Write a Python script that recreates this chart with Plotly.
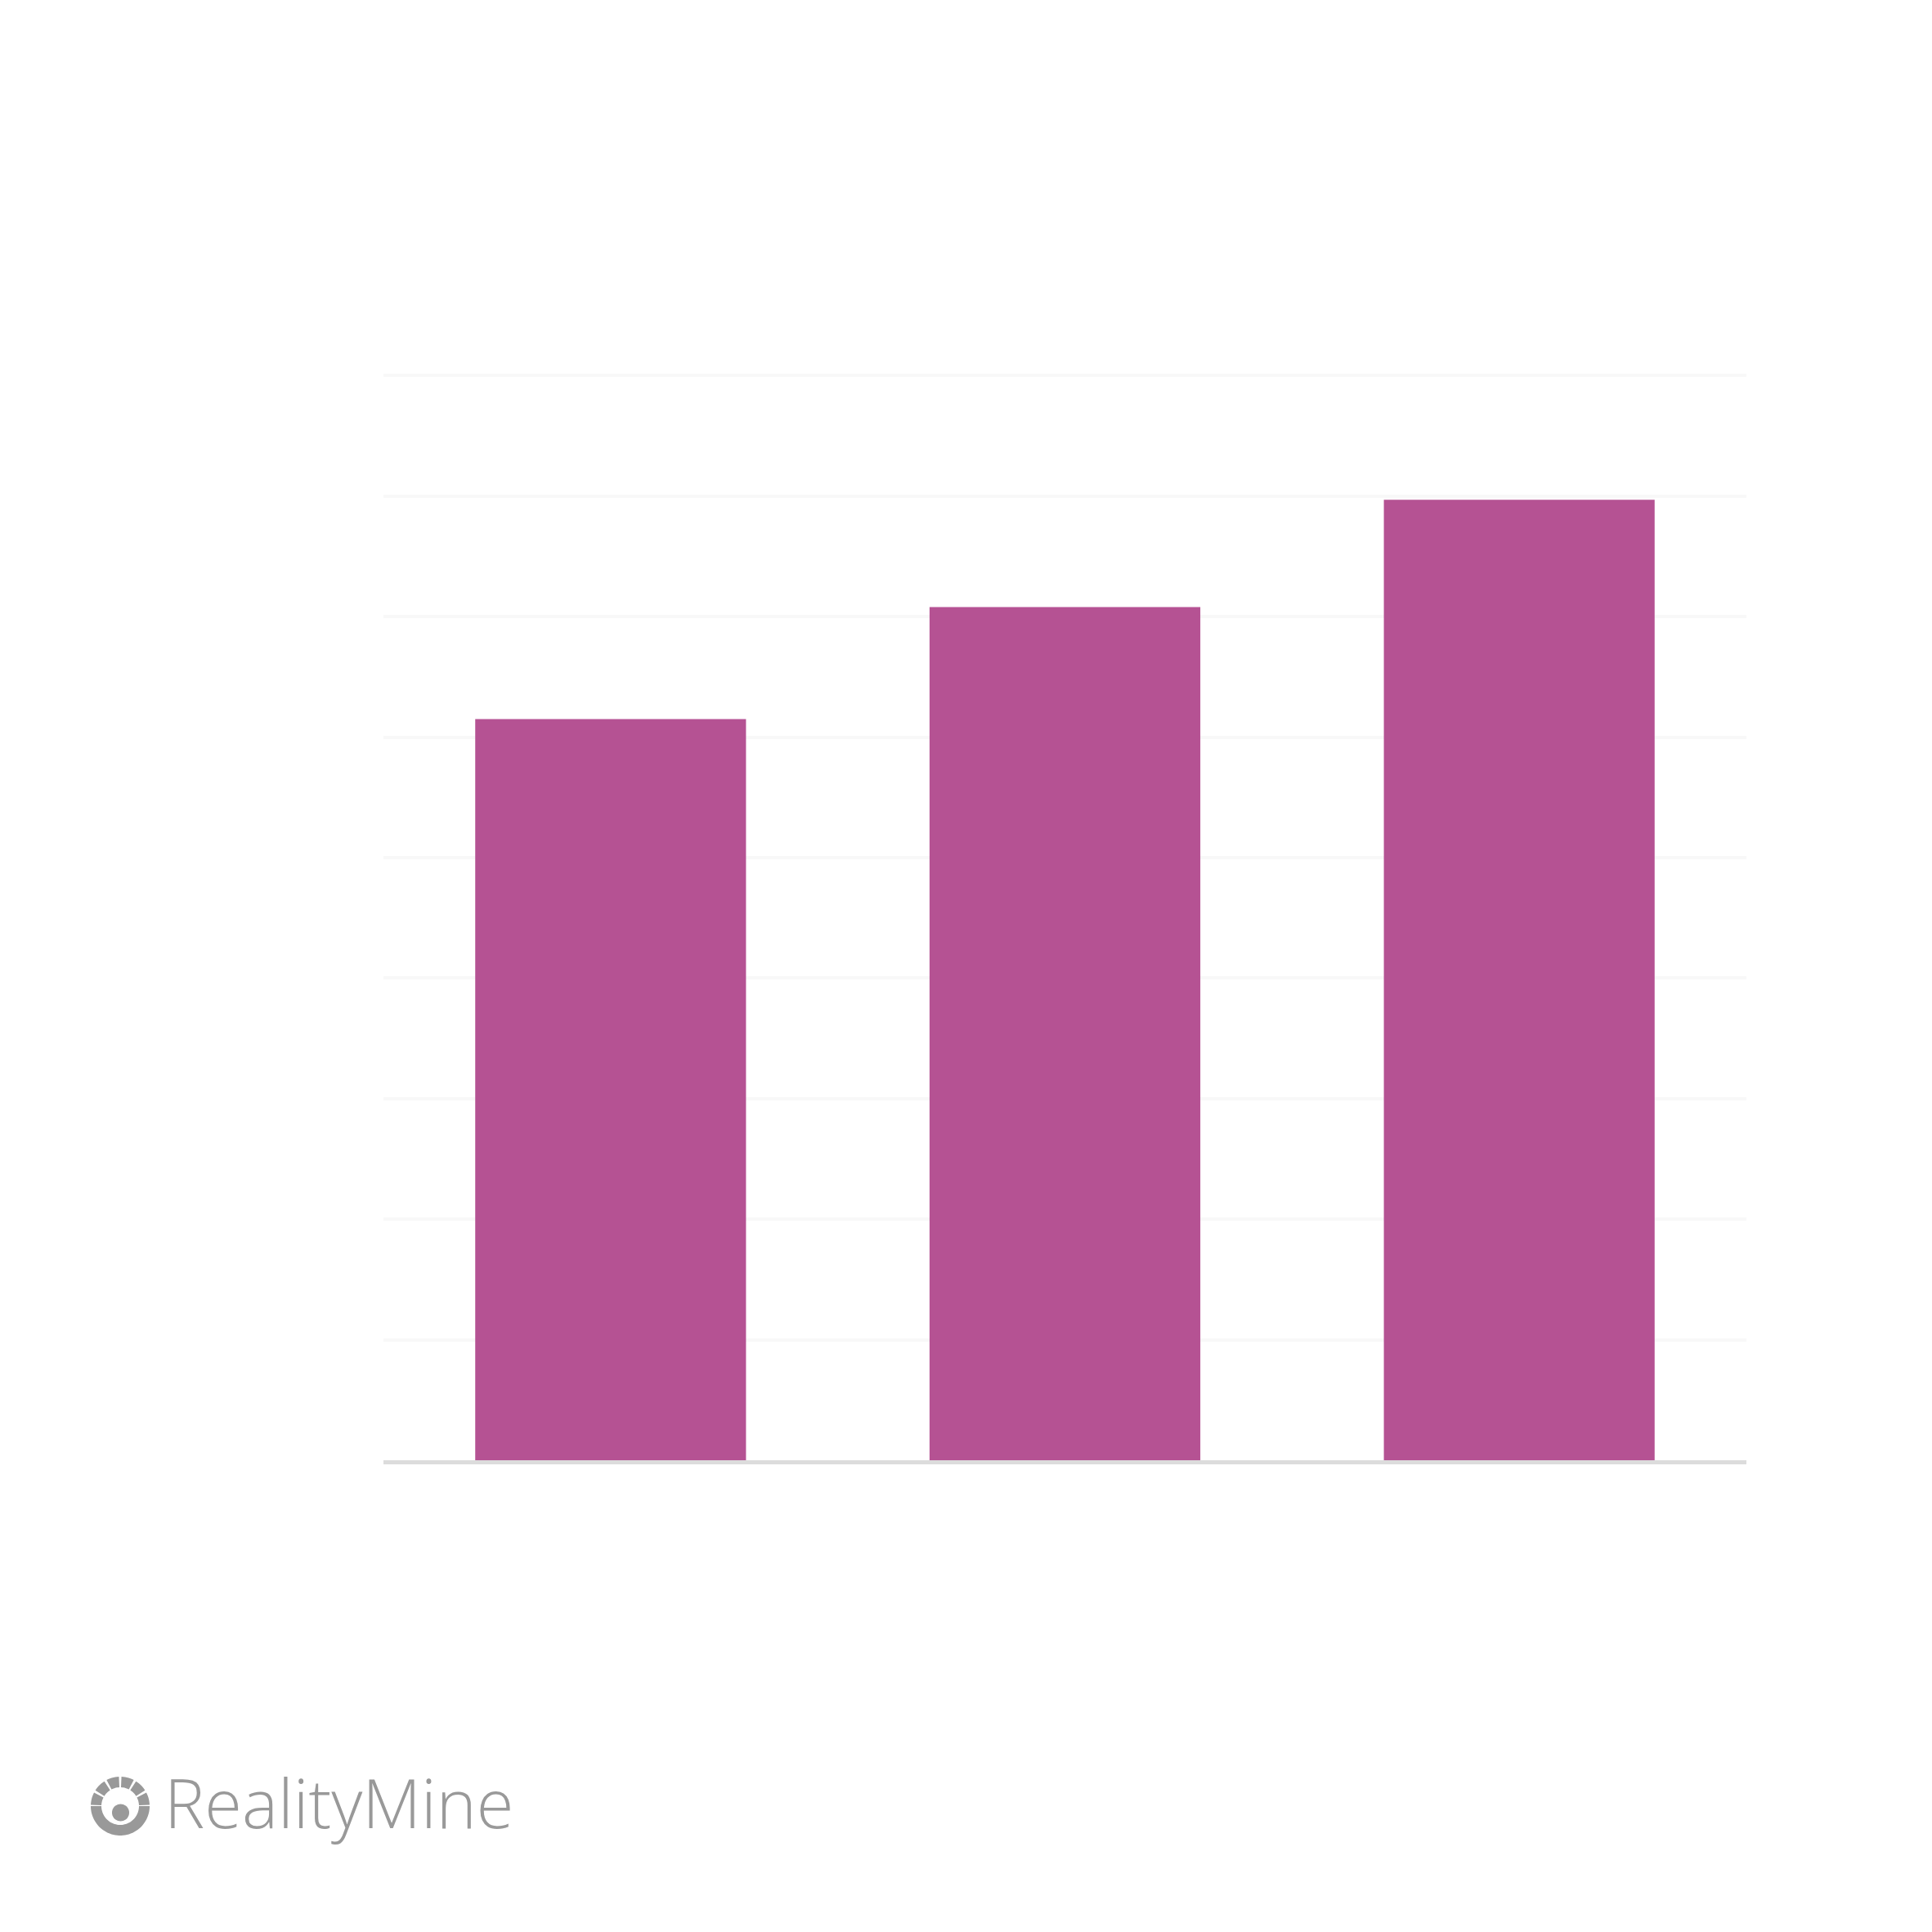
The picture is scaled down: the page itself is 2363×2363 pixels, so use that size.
import numpy as np
import plotly.graph_objects as go

# Données (aucune étiquette visible)
categories = ["A", "B", "C"]
values = [6.15, 7.08, 7.97]
y_max = 9.03

BAR_COLOR = "#b55293"
LOGO_GREY = "#999999"

W, H = 2363, 2363
OFF = 8  # marge par défaut du <body>
M_L, M_R, M_T, M_B = 461, 235, 447, 585
plot_w = W - M_L - M_R
plot_h = H - M_T - M_B


def px_to_paper(px, py):
    # pixel de la page -> coordonnées "paper"
    lx, ly = px - OFF, py - OFF
    return (lx - M_L) / plot_w, (H - M_B - ly) / plot_h


def sector_path(a0, a1, r_in, r_out, n=24):
    # secteur d'anneau en pixels (angles en degrés, y vers le haut)
    t = np.radians(np.linspace(a0, a1, n))
    outer = [(r_out * np.cos(a), r_out * np.sin(a)) for a in t]
    inner = [(r_in * np.cos(a), r_in * np.sin(a)) for a in t[::-1]]
    pts = outer + inner
    d = "M{:.2f},{:.2f}".format(*pts[0])
    for x, y in pts[1:]:
        d += " L{:.2f},{:.2f}".format(x, y)
    return d + " Z"


def circle_path(cx, cy, r, n=40):
    t = np.radians(np.linspace(0, 360, n, endpoint=False))
    pts = [(cx + r * np.cos(a), cy + r * np.sin(a)) for a in t]
    d = "M{:.2f},{:.2f}".format(*pts[0])
    for x, y in pts[1:]:
        d += " L{:.2f},{:.2f}".format(x, y)
    return d + " Z"


fig = go.Figure(
    go.Bar(
        x=categories,
        y=values,
        marker=dict(color=BAR_COLOR, line=dict(width=0)),
        hoverinfo="skip",
    )
)

fig.update_layout(
    width=W,
    height=H,
    margin=dict(l=M_L, r=M_R, t=M_T, b=M_B),
    paper_bgcolor="#ffffff",
    plot_bgcolor="#ffffff",
    bargap=0.404,
    showlegend=False,
)
fig.update_xaxes(
    showticklabels=False,
    showgrid=False,
    showline=True,
    linecolor="#dcdcdc",
    linewidth=5,
    ticks="",
)
fig.update_yaxes(
    range=[0, y_max],
    dtick=1,
    showticklabels=False,
    showgrid=True,
    gridcolor="#f8f8f8",
    gridwidth=4,
    zeroline=False,
    showline=False,
)

# Logo RealityMine (icône + texte)
ax, ay = px_to_paper(147, 2209)
icon = []
for c in range(15, 180, 30):
    icon.append(sector_path(c - 12.5, c + 12.5, 23, 36, n=8))
icon.append(sector_path(180, 360, 23, 36, n=48))
icon.append(circle_path(0.5, -8, 10.5))
for p in icon:
    fig.add_shape(
        type="path",
        path=p,
        xref="paper",
        yref="paper",
        xsizemode="pixel",
        ysizemode="pixel",
        xanchor=ax,
        yanchor=ay,
        fillcolor=LOGO_GREY,
        line=dict(width=0),
    )

tx, ty = px_to_paper(199, 2203)
fig.add_annotation(
    text="RealityMine",
    xref="paper",
    yref="paper",
    x=tx,
    y=ty,
    xanchor="left",
    yanchor="middle",
    showarrow=False,
    font=dict(family="Open Sans", size=83, color=LOGO_GREY, weight=300),
)

fig.write_html("out.html")
